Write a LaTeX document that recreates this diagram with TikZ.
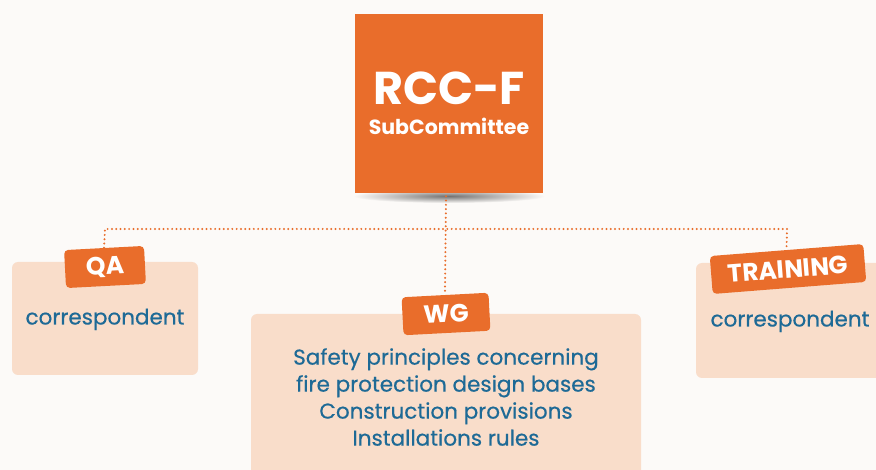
\documentclass[tikz,border=0pt]{standalone}
\usepackage{fontspec}
\setmainfont{Poppins}
\newfontfamily\medfont{Poppins}[FakeBold=0.5]
\usetikzlibrary{positioning}

\definecolor{rccorange}{HTML}{E96D2B}
\definecolor{rccpeach}{HTML}{F9DDCA}
\definecolor{rccblue}{HTML}{1E6A96}
\definecolor{rccback}{HTML}{FCFAF8}

\tikzset{
    every node/.style={inner sep=0pt, align=center},
    memberbox/.style={fill=rccpeach, rounded corners=6pt, text=rccblue,
        font=\medfont\fontsize{21.5}{27}\selectfont},
    tagbox/.style={fill=rccorange, rounded corners=4pt, text=white,
        font=\fontsize{25}{25}\selectfont\bfseries},
    link/.style={draw=rccorange, line width=2.2pt, line cap=round,
        dash pattern=on 0pt off 4.3pt}
}

\begin{document}
\begin{tikzpicture}[x=1pt, y=-1pt]
    \useasboundingbox (0,0) rectangle (876,470);
    \clip (0,0) rectangle (876,470);
    \fill[rccback] (0,0) rectangle (876,470);

    % shadow under the committee
    \shade[inner color=black!55, outer color=rccback] (449,196) ellipse (96 and 7);

    \node[fill=rccorange, minimum width=188pt, minimum height=179pt, text=white] (main) at (449,103.5)
        {{\fontsize{46}{46}\selectfont\bfseries RCC-F}\\[12pt]
         {\fontsize{20.5}{20.5}\selectfont\bfseries SubCommittee}};

    % the three groups
    \node[memberbox, minimum width=186pt, minimum height=113pt] (qa) at (105,318.5)
        {\raisebox{-6pt}[0pt][0pt]{correspondent}};
    \node[memberbox, minimum width=390pt, minimum height=166pt] (wg) at (446,397)
        {Safety principles concerning\\fire protection design bases\\Construction provisions\\Installations rules};
    \node[memberbox, minimum width=188pt, minimum height=115pt] (training) at (790,320.5)
        {\raisebox{-6pt}[0pt][0pt]{correspondent}};

    \node[tagbox, rotate=3, minimum width=80pt, minimum height=38pt] (qatag) at (105,267) {QA};
    \node[tagbox, rotate=3, minimum width=87pt, minimum height=38pt] (wgtag) at (446,314) {WG};
    \node[tagbox, rotate=4.5, minimum width=154pt, minimum height=38pt] (trtag) at (788,269) {TRAINING};

    \coordinate (qaknee) at (105,229);
    \coordinate (trknee) at (787,229);
    \draw[link] (qatag.north) -- (qaknee) -- (trknee) -- (trtag.north);
    \draw[link] (main.south) ++(-3,3) -- (wgtag.north);
\end{tikzpicture}
\end{document}
